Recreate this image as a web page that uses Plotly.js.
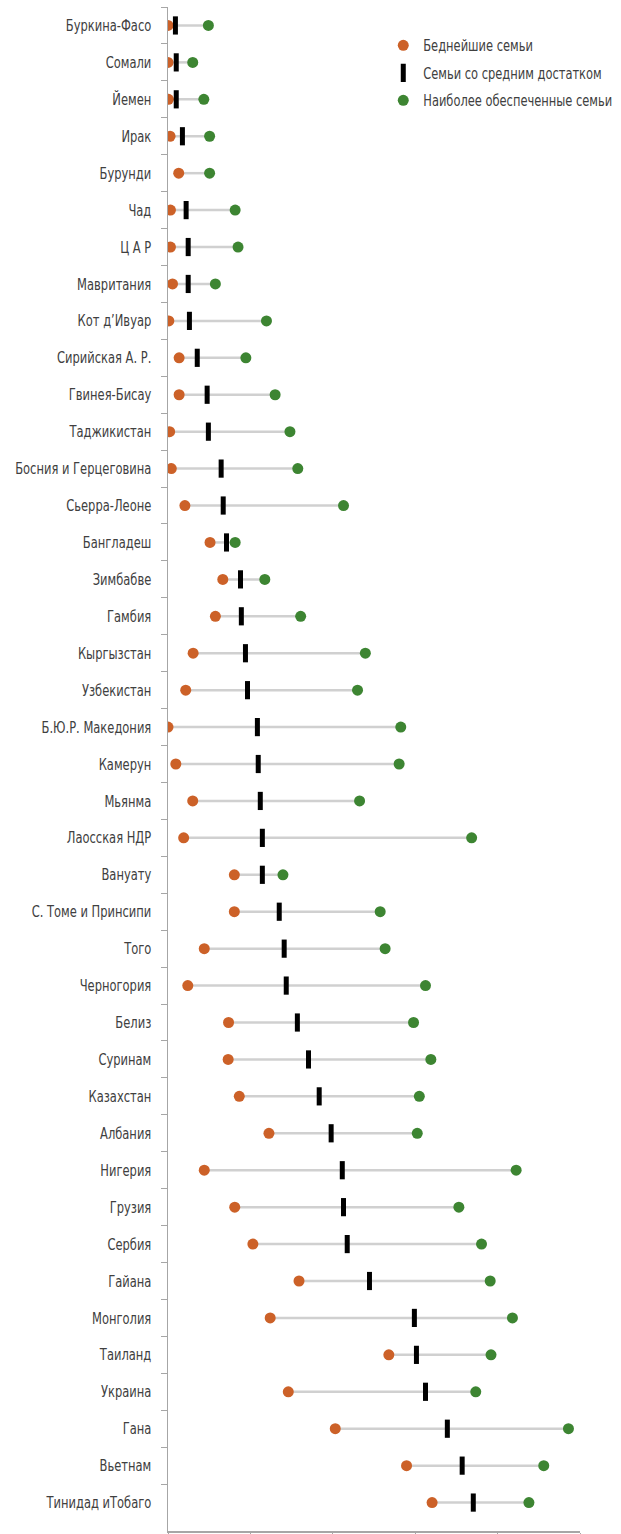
<!DOCTYPE html>
<html>
<head>
<meta charset="utf-8">
<script src="https://cdn.plot.ly/plotly-3.0.1.min.js"></script>
<style>html,body{margin:0;padding:0;background:#fff;}#chart{width:621px;height:1534px;}</style>
</head>
<body>
<div id="chart"></div>
<script>
const countries = ["Буркина-Фасо","Сомали","Йемен","Ирак","Бурунди","Чад","Ц А Р","Мавритания","Кот д’Ивуар","Сирийская А. Р.","Гвинея-Бисау","Таджикистан","Босния и Герцеговина","Сьерра-Леоне","Бангладеш","Зимбабве","Гамбия","Кыргызстан","Узбекистан","Б.Ю.Р. Македония","Камерун","Мьянма","Лаосская НДР","Вануату","С. Томе и Принсипи","Того","Черногория","Белиз","Суринам","Казахстан","Албания","Нигерия","Грузия","Сербия","Гайана","Монголия","Таиланд","Украина","Гана","Вьетнам","Тинидад иТобаго"];
const poorest = [0,0,0.1,0.5,2.6,0.6,0.6,1.1,0.2,2.7,2.7,0.4,0.8,4.1,10.2,13.3,11.5,6.1,4.3,0,1.9,6.0,3.8,16.1,16.1,8.8,4.8,14.7,14.6,17.3,24.5,8.8,16.2,20.6,31.8,24.8,53.6,29.2,40.6,57.9,64.1];
const middle = [1.8,2.0,2.0,3.5,null,4.4,4.9,4.9,5.2,7.1,9.5,9.8,12.9,13.4,14.2,17.6,17.8,18.8,19.3,21.7,21.9,22.4,22.9,22.9,27.0,28.2,28.7,31.4,34.1,36.7,39.6,42.3,42.6,43.5,48.9,59.8,60.3,62.5,67.8,71.4,74.1];
const richest = [9.8,6.0,8.7,10.1,10.1,16.3,17.0,11.5,23.9,18.9,26.0,29.6,31.5,42.6,16.3,23.5,32.2,47.9,46.0,56.5,56.1,46.5,73.7,27.9,51.5,52.7,62.5,59.6,63.8,61.0,60.5,84.5,70.6,76.1,78.2,83.6,78.4,74.7,97.2,91.2,87.6];
const seriesNames = ["Беднейшие семьи","Семьи со средним достатком","Наиболее обеспеченные семьи"];

const lx = [], ly = [];
countries.forEach((c, i) => { lx.push(poorest[i], richest[i], null); ly.push(c, c, null); });

const txt = '#404040';
const axc = '#a6a6a6';
const fam = '"DejaVu Sans Condensed", "Liberation Sans Narrow", Roboto, sans-serif';
const data = [
  {type:'scatter', mode:'lines', x:lx, y:ly, line:{color:'#d0d0d0', width:2.5}, showlegend:false, hoverinfo:'skip', connectgaps:false},
  {type:'scatter', mode:'markers', name:seriesNames[0], legendgroup:'a', x:poorest, y:countries, marker:{color:'#cc6128', size:11, line:{width:0}}},
  {type:'scatter', mode:'markers', name:seriesNames[1], legendgroup:'b', x:middle, y:countries, marker:{symbol:'line-ns', size:13, color:'#000', line:{color:'#000', width:5}}},
  {type:'scatter', mode:'markers', name:seriesNames[2], legendgroup:'c', x:richest, y:countries, marker:{color:'#3d8532', size:11, line:{width:0}}}
];

const layout = {
  width:621, height:1534,
  margin:{l:168, r:41, t:7, b:3, pad:0, autoexpand:false},
  paper_bgcolor:'#fff', plot_bgcolor:'#fff',
  font:{family:fam, color:txt, size:16},
  showlegend:true,
  legend:{x:0.5225, y:0.9855, xanchor:'left', yanchor:'top', font:{family:fam, size:15, color:txt}, tracegroupgap:5, bgcolor:'rgba(0,0,0,0)'},
  xaxis:{range:[0,100], tickvals:[0,20,40,60,80,100], ticks:'outside', ticklen:4, tickcolor:axc, showticklabels:false, showgrid:false, zeroline:false, showline:true, linecolor:axc, linewidth:1.5, fixedrange:true},
  yaxis:{type:'category', categoryorder:'array', categoryarray:countries, range:[40.77,-0.5], tickson:'boundaries', ticks:'outside', ticklen:6, tickcolor:axc, showgrid:false, zeroline:false, showline:true, linecolor:axc, linewidth:1.5, ticklabelstandoff:12, tickfont:{family:fam, size:16, color:txt}, automargin:false, fixedrange:true}
};

function squeeze(root, sel, k) {
  root.querySelectorAll(sel).forEach(t => {
    const x = parseFloat(t.getAttribute('x')) || 0;
    const y = parseFloat(t.getAttribute('y')) || 0;
    const tr = t.getAttribute('transform') || '';
    t.setAttribute('transform', tr + ' translate(' + x + ',' + y + ') scale(' + k + ',1) translate(' + (-x) + ',' + (-y) + ')');
  });
}

Plotly.newPlot('chart', data, layout, {displayModeBar:false, staticPlot:true}).then(gd => {
  squeeze(gd, '.ytick text', 0.8);
  squeeze(gd, '.legendtext', 0.85);
});
</script>
</body>
</html>
